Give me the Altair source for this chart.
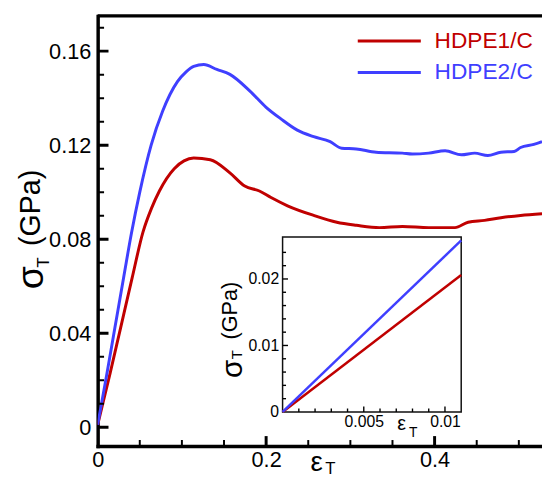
import altair as alt
import pandas as pd

FONT = "Liberation Sans"

# ---------------- data ----------------
SERIES = ["HDPE1/C", "HDPE2/C"]
COLORS = ["#C00000", "#3F3FFF"]

RED_X = [0.0, 0.0149, 0.0265, 0.041, 0.0538, 0.064, 0.0733, 0.0909, 0.1025, 0.114, 0.1337, 0.157,
         0.1746, 0.192, 0.2058, 0.2254, 0.2565, 0.2839, 0.3072, 0.3345, 0.3618, 0.393,
         0.4242, 0.4398, 0.4593, 0.4787, 0.5021, 0.5275]
RED_Y = [0.001, 0.0231, 0.0411, 0.0636, 0.0830, 0.0932, 0.1005, 0.1100, 0.1133, 0.1145, 0.1138, 0.1082,
         0.1026, 0.1005, 0.0977, 0.0942, 0.0901, 0.0872, 0.0859, 0.0849, 0.0854, 0.0849,
         0.0849, 0.0872, 0.088, 0.0891, 0.0901, 0.0908]

BLUE_X = [0.0, 0.0105, 0.0207, 0.031, 0.0401, 0.050, 0.0635, 0.0772, 0.0947, 0.105, 0.114,
          0.126, 0.1415, 0.157, 0.1805, 0.200, 0.2175, 0.237, 0.2565, 0.276, 0.2897,
          0.307, 0.3306, 0.3618, 0.3735, 0.393, 0.4125, 0.4319, 0.4476, 0.4632, 0.4787,
          0.4944, 0.5021, 0.5178, 0.5275]
BLUE_Y = [0.001, 0.0218, 0.0428, 0.0640, 0.0825, 0.1000, 0.1200, 0.1345, 0.1470, 0.1512, 0.1535,
          0.1543, 0.1522, 0.1501, 0.1431, 0.1361, 0.1312, 0.1264, 0.1236, 0.1215, 0.1187,
          0.1184, 0.117, 0.1166, 0.1162, 0.1166, 0.1176, 0.1159, 0.1166, 0.1156, 0.117,
          0.1173, 0.119, 0.1203, 0.1215]

INSET_X = [0.0, 0.011]
INSET_RED_Y = [0.0, 0.0206]
INSET_BLUE_Y = [0.0, 0.0258]

MAIN_X_DOMAIN = [0.0, 0.5275]
MAIN_Y_DOMAIN = [-0.008, 0.175]
MAIN_X_LABELS = [0, 0.2, 0.4]
MAIN_Y_LABELS = [0, 0.04, 0.08, 0.12, 0.16]
MAIN_X_MAJOR = [0.2, 0.4]
MAIN_X_MINOR = [0.05, 0.1, 0.15, 0.25, 0.3, 0.35, 0.45, 0.5]
MAIN_Y_MAJOR = [0.0, 0.04, 0.08, 0.12, 0.16]
MAIN_Y_MINOR = [0.01, 0.02, 0.03, 0.05, 0.06, 0.07, 0.09, 0.10, 0.11, 0.13, 0.14, 0.15, 0.17]

INSET_X_DOMAIN = [0.0, 0.011]
INSET_Y_DOMAIN = [0.0, 0.0263]
INSET_X_LABELS = [0.005, 0.01]
INSET_Y_LABELS = [0, 0.01, 0.02]
INSET_X_MAJOR = [0.005, 0.01]
INSET_X_MINOR = [0.001, 0.002, 0.003, 0.004, 0.006, 0.007, 0.008, 0.009]
INSET_Y_MAJOR = [0.01, 0.02]
INSET_Y_MINOR = [0.002, 0.004, 0.006, 0.008, 0.012, 0.014, 0.016, 0.018, 0.022, 0.024]

# ---------------- layout ----------------
W, H = 451, 436.5
IX0, IX1 = 187.7, 369.0      # inset plot range (pixels inside main plot)
IY0, IY1 = 402.0, 224.5

MXP = (MAIN_X_DOMAIN[1] - MAIN_X_DOMAIN[0]) / W
MYP = (MAIN_Y_DOMAIN[1] - MAIN_Y_DOMAIN[0]) / H
IXP = (INSET_X_DOMAIN[1] - INSET_X_DOMAIN[0]) / (IX1 - IX0)
IYP = (INSET_Y_DOMAIN[1] - INSET_Y_DOMAIN[0]) / (IY0 - IY1)


def series_rows(xs, ys, name, color, width, fx, fy):
    return [{fx: x, fy: y, "id": name, "col": color, "w": width, "k": i}
            for i, (x, y) in enumerate(zip(xs, ys))]


def tick_rows(vals, along, length, width, fx, fy, edge, pxx, pxy, tag):
    rows = []
    for v in vals:
        if along == "x":
            pts = [(v, edge), (v, edge + length * pxy)]
        else:
            pts = [(edge, v), (edge + length * pxx, v)]
        for k, (a, b) in enumerate(pts):
            rows.append({fx: a, fy: b, "id": f"{tag}{v}", "col": "black", "w": width, "k": k})
    return rows


main_rows = (
    series_rows(RED_X, RED_Y, SERIES[0], COLORS[0], 3, "x", "y")
    + series_rows(BLUE_X, BLUE_Y, SERIES[1], COLORS[1], 3, "x", "y")
    + tick_rows(MAIN_X_MAJOR, "x", 10, 3, "x", "y", MAIN_Y_DOMAIN[0], MXP, MYP, "xM")
    + tick_rows(MAIN_X_MINOR, "x", 6, 2, "x", "y", MAIN_Y_DOMAIN[0], MXP, MYP, "xm")
    + tick_rows(MAIN_Y_MAJOR, "y", 11, 3, "x", "y", MAIN_X_DOMAIN[0], MXP, MYP, "yM")
    + tick_rows(MAIN_Y_MINOR, "y", 6.5, 2, "x", "y", MAIN_X_DOMAIN[0], MXP, MYP, "ym")
)
main_df = pd.DataFrame(main_rows)

inset_rows = (
    series_rows(INSET_X, INSET_RED_Y, SERIES[0], COLORS[0], 2.5, "ix", "iy")
    + series_rows(INSET_X, INSET_BLUE_Y, SERIES[1], COLORS[1], 2.5, "ix", "iy")
    + tick_rows(INSET_X_MAJOR, "x", 5.5, 1.4, "ix", "iy", INSET_Y_DOMAIN[0], IXP, IYP, "ixM")
    + tick_rows(INSET_X_MINOR, "x", 3.5, 1.4, "ix", "iy", INSET_Y_DOMAIN[0], IXP, IYP, "ixm")
    + tick_rows(INSET_Y_MAJOR, "y", 5.5, 1.4, "ix", "iy", INSET_X_DOMAIN[0], IXP, IYP, "iyM")
    + tick_rows(INSET_Y_MINOR, "y", 3.5, 1.4, "ix", "iy", INSET_X_DOMAIN[0], IXP, IYP, "iym")
)
inset_df = pd.DataFrame(inset_rows)


def XS():
    return alt.Scale(domain=MAIN_X_DOMAIN, range=[0, W], nice=False, zero=False)


def YS():
    return alt.Scale(domain=MAIN_Y_DOMAIN, range=[H, 0], nice=False, zero=False)


def IXS():
    return alt.Scale(domain=INSET_X_DOMAIN, range=[IX0, IX1], nice=False, zero=False)


def IYS():
    return alt.Scale(domain=INSET_Y_DOMAIN, range=[IY0, IY1], nice=False, zero=False)


one = pd.DataFrame({"a": [0]})


def axis_common(**kw):
    base = dict(title=None, grid=False, ticks=False, tickSize=0, format="~g",
                labelFont=FONT, labelColor="black", labelFlush=False, labelOverlap=False)
    base.update(kw)
    return alt.Axis(**base)


main_lines = alt.Chart(main_df).mark_line(clip=True, interpolate="monotone").encode(
    x=alt.X("x:Q", scale=XS(), axis=axis_common(values=MAIN_X_LABELS, orient="bottom", domain=True,
                                                 domainColor="black", domainWidth=3.5, domainCap="square",
                                                 labelFontSize=22, labelPadding=4)),
    y=alt.Y("y:Q", scale=YS(), axis=axis_common(values=MAIN_Y_LABELS, orient="left", domain=True,
                                                 domainColor="black", domainWidth=3.5, domainCap="square",
                                                 labelFontSize=22, labelPadding=7)),
    color=alt.Color("col:N", scale=None, legend=None),
    size=alt.Size("w:Q", scale=None, legend=None),
    detail=alt.Detail("id:N"),
    order=alt.Order("k:Q"),
)

top_border = alt.Chart(one).mark_rule(color="black", strokeWidth=3.5).encode(
    x=alt.value(0), x2=alt.value(W), y=alt.value(0))


def text(t, x, y, size, color="black", angle=0, align="left", baseline="alphabetic"):
    kw = dict(text=t, font=FONT, fontSize=size, color=color, align=align, baseline=baseline)
    if angle:
        kw["angle"] = angle
    return alt.Chart(one).mark_text(**kw).encode(x=alt.value(x), y=alt.value(y))


legend_layers = []
for i, (s, c) in enumerate(zip(SERIES, COLORS)):
    ly = 25.5 + 32 * i
    legend_layers.append(alt.Chart(one).mark_rule(color=c, strokeWidth=3).encode(
        x=alt.value(264), x2=alt.value(328), y=alt.value(ly)))
    legend_layers.append(text(s, 342, ly, 23, color=c, baseline="middle"))

main_titles = [
    text("σ", -55, 277.5, 38, angle=270),
    text("T", -49, 255.5, 17, angle=270),
    text("(GPa)", -59, 233.5, 29, angle=270),
    text("ε", 216, 461.5, 28),
    text("T", 231, 465.0, 17),
]

# ---------------- inset ----------------
frame = alt.Chart(one).mark_rect(fill="white", stroke="#111111", strokeWidth=1.5).encode(
    x=alt.X(datum=INSET_X_DOMAIN[0], scale=IXS(), axis=None), x2=alt.X2(datum=INSET_X_DOMAIN[1]),
    y=alt.Y(datum=INSET_Y_DOMAIN[0], scale=IYS(), axis=None), y2=alt.Y2(datum=INSET_Y_DOMAIN[1]),
)

inset_lines = alt.Chart(inset_df).mark_line().encode(
    x=alt.X("ix:Q", scale=IXS(), axis=axis_common(values=INSET_X_LABELS, orient="bottom", offset=-(H - IY0),
                                                   domain=False, labelFontSize=16, labelPadding=2)),
    y=alt.Y("iy:Q", scale=IYS(), axis=axis_common(values=INSET_Y_LABELS, orient="left", offset=-IX0,
                                                   domain=False, labelFontSize=16, labelPadding=4)),
    color=alt.Color("col:N", scale=None, legend=None),
    size=alt.Size("w:Q", scale=None, legend=None),
    detail=alt.Detail("id:N"),
    order=alt.Order("k:Q"),
)

inset_titles = [
    text("σ", 146, 367.5, 30, angle=270),
    text("T", 147, 348.5, 15, angle=270),
    text("(GPa)", 141, 328.5, 22, angle=270),
    text("ε", 304, 420.5, 20),
    text("T", 316, 427.5, 14),
]

layers = [
    frame,
    main_lines,
    top_border, *legend_layers, *main_titles,
    inset_lines,
    *inset_titles,
]

chart = alt.layer(*layers).resolve_scale(
    x="independent", y="independent"
).properties(
    width=W, height=H,
    autosize=alt.AutoSizeParams(type="none"),
    padding={"left": 91, "top": 4.5, "right": 0, "bottom": 28},
    background="white",
).configure_view(stroke=None)

chart.save("out.html", embed_options={"renderer": "svg", "actions": False})
